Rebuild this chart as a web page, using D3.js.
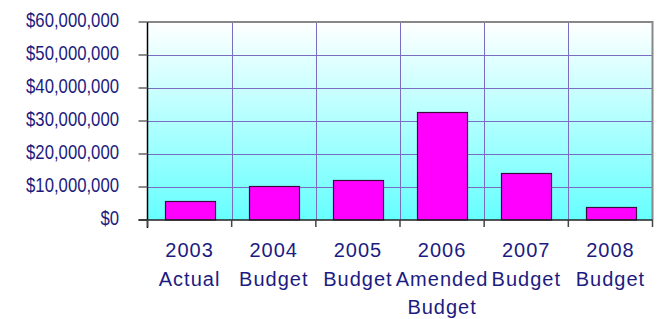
<!DOCTYPE html>
<html>
<head>
<meta charset="utf-8">
<script src="https://cdn.jsdelivr.net/npm/d3@7"></script>
<style>
  body { margin: 0; background: #fff; }
  text { font-family: "Liberation Sans", Arial, sans-serif; fill: #1c1c80; }
</style>
</head>
<body>
<svg id="chart" width="659" height="319"></svg>
<script>
// categories (each line of the axis label), values in dollars
var categories = ['2003', '2004', '2005', '2006', '2007', '2008'];
var categoryLines = [['2003', 'Actual'], ['2004', 'Budget'], ['2005', 'Budget'],
                     ['2006', 'Amended', 'Budget'], ['2007', 'Budget'], ['2008', 'Budget']];
var amounts = [5700000, 10200000, 12000000, 32800000, 14200000, 3900000];
var yTicks = [0, 10000000, 20000000, 30000000, 40000000, 50000000, 60000000];

var svg = d3.select('#chart');
var plotLeft = 147.5, plotRight = 652.5, plotTop = 22, plotBottom = 220;

var x = d3.scaleBand()
    .domain(categories)
    .range([plotLeft, plotRight])
    .paddingInner(0.41)
    .paddingOuter(0.205);
var step = x.step();

var y = d3.scaleLinear()
    .domain([0, 60000000])
    .range([plotBottom, plotTop]);

// background gradient, white at top to cyan at bottom
var grad = svg.append('defs').append('linearGradient')
    .attr('id', 'bg')
    .attr('x1', 0).attr('y1', 0).attr('x2', 0).attr('y2', 1);
grad.append('stop').attr('offset', '0%').attr('stop-color', '#ffffff');
grad.append('stop').attr('offset', '100%').attr('stop-color', '#66ffff');

svg.append('rect')
    .attr('x', plotLeft).attr('y', plotTop)
    .attr('width', plotRight - plotLeft).attr('height', plotBottom - plotTop)
    .attr('fill', 'url(#bg)');

// horizontal gridlines
svg.append('g').selectAll('line')
    .data(yTicks.slice(1, -1))
    .enter().append('line')
    .attr('x1', plotLeft).attr('x2', plotRight)
    .attr('y1', function(d) { return Math.round(y(d)) + 0.5; })
    .attr('y2', function(d) { return Math.round(y(d)) + 0.5; })
    .attr('stroke', '#7a6cc0').attr('stroke-width', 1);

// vertical gridlines at category boundaries
svg.append('g').selectAll('line')
    .data(categories.slice(1))
    .enter().append('line')
    .attr('x1', function(d) { return Math.round(x(d) - step * 0.205) + 0.5; })
    .attr('x2', function(d) { return Math.round(x(d) - step * 0.205) + 0.5; })
    .attr('y1', plotTop).attr('y2', plotBottom)
    .attr('stroke', '#7a6cc0').attr('stroke-width', 1);

// top and right frame
svg.append('path')
    .attr('d', 'M' + plotLeft + ',' + plotTop + 'H' + plotRight + 'V' + plotBottom)
    .attr('fill', 'none').attr('stroke', '#888').attr('stroke-width', 2);

// bars
svg.append('g').selectAll('rect')
    .data(amounts)
    .enter().append('rect')
    .attr('x', function(d, i) { return Math.round(x(categories[i])) + 0.5; })
    .attr('y', function(d) { return Math.round(y(d)) + 0.5; })
    .attr('width', Math.round(x.bandwidth()))
    .attr('height', function(d) { return plotBottom - Math.round(y(d)) - 0.5; })
    .attr('fill', '#ff00ff')
    .attr('stroke', '#3a0a3a').attr('stroke-width', 1.2);

// y axis
var yAxis = svg.append('g');
yAxis.append('line')
    .attr('x1', plotLeft).attr('x2', plotLeft)
    .attr('y1', plotTop).attr('y2', plotBottom + 8)
    .attr('stroke', '#000').attr('stroke-width', 1.5);
yAxis.selectAll('.tick')
    .data(yTicks)
    .enter().append('line')
    .attr('x1', plotLeft - 9).attr('x2', plotLeft)
    .attr('y1', function(d) { return y(d); })
    .attr('y2', function(d) { return y(d); })
    .attr('stroke', '#666').attr('stroke-width', 1.5);

var fmt = d3.format('$,');
yAxis.selectAll('text')
    .data(yTicks)
    .enter().append('text')
    .attr('transform', function(d) { return 'translate(119,' + (y(d) + 4.5) + ') scale(0.836,1)'; })
    .attr('text-anchor', 'end')
    .style('font-size', '20px')
    .text(function(d) { return fmt(d); });

// x axis
var xAxis = svg.append('g');
xAxis.append('line')
    .attr('x1', plotLeft - 9).attr('x2', plotRight)
    .attr('y1', plotBottom).attr('y2', plotBottom)
    .attr('stroke', '#222').attr('stroke-width', 1.5);
xAxis.selectAll('.tick')
    .data(categories.concat(['end']))
    .enter().append('line')
    .attr('x1', function(d, i) { return plotLeft + i * step; })
    .attr('x2', function(d, i) { return plotLeft + i * step; })
    .attr('y1', plotBottom).attr('y2', plotBottom + 7)
    .attr('stroke', '#444').attr('stroke-width', 1.5);

xAxis.selectAll('text')
    .data(categoryLines)
    .enter().append('text')
    .attr('text-anchor', 'middle')
    .style('font-size', '20px')
    .style('letter-spacing', '1px')
    .each(function(lines, i) {
        var cx = x(categories[i]) + x.bandwidth() / 2;
        d3.select(this).selectAll('tspan')
            .data(lines)
            .enter().append('tspan')
            .attr('x', cx)
            .attr('y', function(d, j) { return 257 + j * 28.5; })
            .text(function(d) { return d; });
    });
</script>
</body>
</html>
